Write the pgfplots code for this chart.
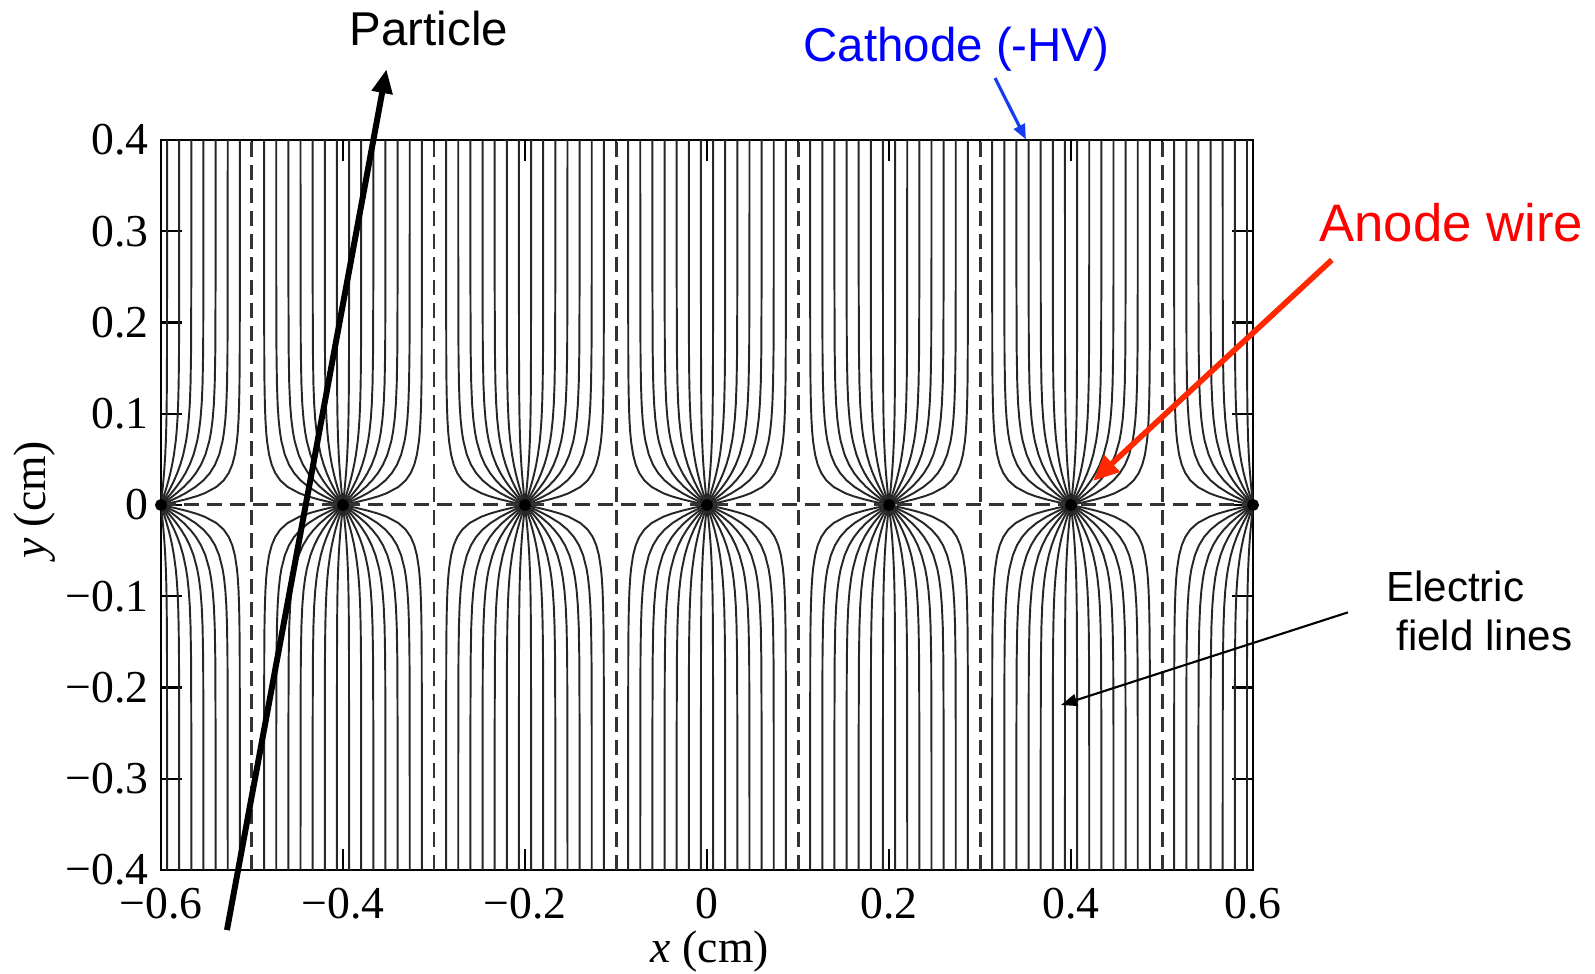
\documentclass[border=0pt]{standalone}
\usepackage{fontspec}
\setmainfont{Liberation Serif}
\newfontfamily\arial{Liberation Sans}
\usepackage{pgfplots}
\usepackage{pgfplotstable}
\pgfplotsset{compat=1.18}
\usetikzlibrary{arrows.meta}

\definecolor{cathblue}{RGB}{0,0,255}
\definecolor{catharrow}{RGB}{20,60,240}
\definecolor{anodered}{RGB}{255,0,0}
\definecolor{anodearrow}{RGB}{255,40,0}

% one field line family, first quadrant around a wire (offset from wire, height)
\pgfplotstableread{
y        x0       x1       x2       x3       x4       x5       x6
0        0        0        0        0        0        0        0
0.003186 0.000335 0.001034 0.001837 0.002864 0.004374 0.007120 0.014708
0.006388 0.000669 0.002068 0.003671 0.005717 0.008708 0.014065 0.027995
0.009622 0.001004 0.003100 0.005500 0.008547 0.012961 0.020688 0.039123
0.012906 0.001338 0.004131 0.007319 0.011343 0.017101 0.026878 0.048063
0.019705 0.002007 0.006186 0.010918 0.016796 0.024929 0.037747 0.060757
0.026971 0.002675 0.008228 0.014449 0.022008 0.032039 0.046597 0.068904
0.034970 0.003343 0.010253 0.017891 0.026930 0.038373 0.053685 0.074410
0.044127 0.004009 0.012257 0.021230 0.031533 0.043945 0.059358 0.078325
0.055214 0.004675 0.014237 0.024451 0.035803 0.048815 0.063935 0.081232
0.069940 0.005340 0.016190 0.027546 0.039740 0.053061 0.067670 0.083467
0.079969 0.005672 0.017155 0.029044 0.041587 0.054975 0.069283 0.084400
0.093724 0.006004 0.018112 0.030508 0.043356 0.056763 0.070754 0.085236
0.110648 0.006269 0.018871 0.031655 0.044715 0.058110 0.071840 0.085843
0.133200 0.006468 0.019437 0.032500 0.045704 0.059073 0.072606 0.086267
0.168491 0.006600 0.019813 0.033057 0.046349 0.059695 0.073095 0.086536
0.241929 0.006660 0.019981 0.033306 0.046635 0.059970 0.073310 0.086654
0.4      0.006667 0.02     0.033333 0.046667 0.06     0.073333 0.086667
}\fieldtbl

\begin{document}
\begin{tikzpicture}
\begin{axis}[
  scale only axis,
  width=10.92cm, height=7.30cm,
  xmin=-0.6, xmax=0.6, ymin=-0.4, ymax=0.4,
  clip mode=individual,
  xtick={-0.6,-0.4,-0.2,0,0.2,0.4,0.6},
  xticklabels={−0.6,−0.4,−0.2,0,0.2,0.4,0.6},
  minor xtick={-0.5,-0.3,-0.1,0.1,0.3,0.5},
  ytick={-0.4,-0.3,-0.2,-0.1,0,0.1,0.2,0.3,0.4},
  yticklabels={−0.4,−0.3,−0.2,−0.1,0,0.1,0.2,0.3,0.4},
  tick align=inside,
  major tick length=0.21cm, minor tick length=0.12cm,
  tick style={black, line width=0.6pt},
  axis line style={line width=0.7pt},
  ticklabel style={font=\fontsize{13}{15}\selectfont},
  xticklabel style={yshift=-0.06cm},
  label style={font=\fontsize{13}{15}\selectfont},
  xlabel={\textit{x} (cm)}, ylabel={\textit{y} (cm)},
  xlabel style={at={(axis description cs:0.5027,-0.1274)}, anchor=base},
  ylabel style={at={(axis description cs:-0.1154,0.507)}, anchor=center},
  fieldline/.style={black!85, line width=0.55pt, no markers},
  boundary/.style={black!80, line width=0.85pt, dash pattern=on 0.15cm off 0.08cm, no markers},
]

% field lines: 7 wires, 4 quadrants, 7 lines each
\foreach \w in {-3,...,3}{
 \foreach \sx in {-1,1}{
  \foreach \sy in {-1,1}{
   \foreach \k in {0,...,6}{
    \edef\temp{\noexpand\addplot[fieldline] table[x expr={0.2*(\w)+(\sx)*\noexpand\thisrow{x\k}}, y expr={(\sy)*\noexpand\thisrow{y}}]{\noexpand\fieldtbl};}
    \temp
}}}}

% cell boundaries
\addplot[boundary] coordinates {(-0.6,0) (0.6,0)};
\addplot[boundary] coordinates {(-0.5,-0.4) (-0.5,0.4)};
\addplot[boundary] coordinates {(-0.3,-0.4) (-0.3,0.4)};
\addplot[boundary] coordinates {(-0.1,-0.4) (-0.1,0.4)};
\addplot[boundary] coordinates {(0.1,-0.4) (0.1,0.4)};
\addplot[boundary] coordinates {(0.3,-0.4) (0.3,0.4)};
\addplot[boundary] coordinates {(0.5,-0.4) (0.5,0.4)};

% anode wires
\addplot[only marks, mark=*, mark size=1.5pt, black] coordinates {(-0.6,0) (-0.4,0) (-0.2,0) (0,0) (0.2,0) (0.4,0) (0.6,0)};

% annotations
\draw[line width=1.7pt, -{Triangle[length=0.24cm,width=0.2cm]}]
  (axis cs:-0.5275,-0.4658) -- (axis cs:-0.3522,0.4776);
\node[anchor=base, font=\arial\fontsize{13.5}{16}\selectfont] at (axis cs:-0.3055,0.503) {Particle};

\node[anchor=base, text=cathblue, font=\arial\fontsize{13.5}{16}\selectfont] at (axis cs:0.2742,0.486) {Cathode (-HV)};
\draw[catharrow, line width=0.9pt, -{Triangle[length=0.15cm,width=0.12cm]}]
  (axis cs:0.3165,0.4679) -- (axis cs:0.3505,0.4005);

\node[anchor=base, text=anodered, font=\arial\fontsize{15}{18}\selectfont] at (axis cs:0.8179,0.2885) {Anode wire};
\draw[anodearrow, line width=1.6pt, -{Triangle[length=0.26cm,width=0.22cm]}]
  (axis cs:0.6865,0.2685) -- (axis cs:0.4242,0.0263);

\node[anchor=base west, inner sep=0pt, font=\arial\fontsize{12}{14}\selectfont] at (axis cs:0.7455,-0.1063) {Electric};
\node[anchor=base west, inner sep=0pt, font=\arial\fontsize{12}{14}\selectfont] at (axis cs:0.7567,-0.16) {field lines};
\draw[line width=0.6pt, -{Triangle[length=0.16cm,width=0.12cm]}]
  (axis cs:0.7042,-0.1177) -- (axis cs:0.389,-0.2192);

\coordinate (bbsw) at (axis cs:-0.7769,-0.5129);
\coordinate (bbne) at (axis cs:0.9758,0.5534);
\end{axis}
\pgfresetboundingbox
\useasboundingbox (bbsw) rectangle (bbne);
\end{tikzpicture}
\end{document}
